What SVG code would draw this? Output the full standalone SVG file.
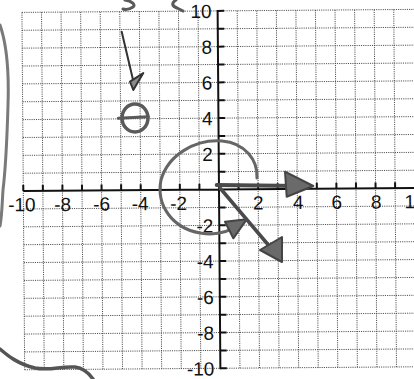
<svg xmlns="http://www.w3.org/2000/svg" width="414" height="379" viewBox="0 0 414 379">
<style>
.grid{fill:none;stroke:#3a3a3a;stroke-width:0.9;stroke-dasharray:1.1 1.1}
.axis{fill:none;stroke:#111;stroke-width:2}
.tick{fill:none;stroke:#111;stroke-width:2}
.lbl{font-family:"Liberation Sans",Arial,sans-serif;font-size:19px;fill:#111}
.xl{text-anchor:end}
.yl{text-anchor:end}
.pen{fill:none;stroke:#5a5a5a;stroke-width:3;stroke-linecap:round;stroke-linejoin:round}
.head{fill:#6a6a6a;stroke:#444;stroke-width:2;stroke-linejoin:round}
</style>
<rect width="414" height="379" fill="#fff"/>
<g id="plot" transform="rotate(-0.44 219 189.6)">
<path id="grid" class="grid" d="M23.3,10.9V368.3M42.87,10.9V368.3M62.44,10.9V368.3M82.01,10.9V368.3M101.58,10.9V368.3M121.15,10.9V368.3M140.72,10.9V368.3M160.29,10.9V368.3M179.86,10.9V368.3M199.43,10.9V368.3M238.57,10.9V368.3M258.14,10.9V368.3M277.71,10.9V368.3M297.28,10.9V368.3M316.85,10.9V368.3M336.42,10.9V368.3M355.99,10.9V368.3M375.56,10.9V368.3M395.13,10.9V368.3M23.3,10.9H420M23.3,28.77H420M23.3,46.64H420M23.3,64.51H420M23.3,82.38H420M23.3,100.25H420M23.3,118.12H420M23.3,135.99H420M23.3,153.86H420M23.3,171.73H420M23.3,207.47H420M23.3,225.34H420M23.3,243.21H420M23.3,261.08H420M23.3,278.95H420M23.3,296.82H420M23.3,314.69H420M23.3,332.56H420M23.3,350.43H420M23.3,368.3H420"/>
<g id="axes">
<path class="axis" d="M23.3,189.6H420M219,10V369.3"/>
<path class="tick" d="M23.3,189.6v-6M42.87,189.6v-6M62.44,189.6v-6M82.01,189.6v-6M101.58,189.6v-6M121.15,189.6v-6M140.72,189.6v-6M160.29,189.6v-6M179.86,189.6v-6M199.43,189.6v-6M238.57,189.6v-6M258.14,189.6v-6M277.71,189.6v-6M297.28,189.6v-6M316.85,189.6v-6M336.42,189.6v-6M355.99,189.6v-6M375.56,189.6v-6M395.13,189.6v-6M219,10.9h6.5M219,28.77h6.5M219,46.64h6.5M219,64.51h6.5M219,82.38h6.5M219,100.25h6.5M219,118.12h6.5M219,135.99h6.5M219,153.86h6.5M219,171.73h6.5M219,207.47h6.5M219,225.34h6.5M219,243.21h6.5M219,261.08h6.5M219,278.95h6.5M219,296.82h6.5M219,314.69h6.5M219,332.56h6.5M219,350.43h6.5M219,368.3h6.5"/>
</g>
<g id="x-labels" class="lbl xl">
<text x="35.5" y="209.7">-10</text>
<text x="71" y="209.7">-8</text>
<text x="110" y="209.7">-6</text>
<text x="148.5" y="209.7">-4</text>
<text x="187" y="209.7">-2</text>
<text x="263.5" y="209.7">2</text>
<text x="303.5" y="209.7">4</text>
<text x="342" y="209.7">6</text>
<text x="381.5" y="209.7">8</text>
<text x="425.5" y="209.7">10</text>
</g>
<g id="y-labels" class="lbl yl">
<text x="213" y="17.9">10</text>
<text x="213" y="53.6">8</text>
<text x="213" y="89.4">6</text>
<text x="213" y="125.1">4</text>
<text x="213" y="160.9">2</text>
<text x="213" y="232.3">-2</text>
<text x="213" y="268.1">-4</text>
<text x="213" y="303.8">-6</text>
<text x="213" y="339.6">-8</text>
<text x="213" y="375.3">-10</text>
</g>
</g>
<g id="marks">
<path id="left-curve" class="pen" style="stroke:#7a7a7a" d="M0,25 C7,45 9,75 8,105 C7,140 6,165 3,190 C2,205 2,215 0,226"/>
<path id="bottom-curve" class="pen" style="stroke:#555;stroke-width:3.5" d="M0,349 C8,356 18,364 35,368 C50,371 60,366 75,367 C83,368 88,372 93,379"/>
<path id="top-mark-1" class="pen" d="M125,0 C132,1 136,5 133,7 C130,9 126,10 123,9"/>
<path id="top-mark-2" class="pen" d="M176,0 C171,3 172,6 177,8 C179,9 181,10 183,11"/>
<g id="arrow-down">
<path class="pen" style="stroke:#333;stroke-width:2" d="M121.7,31.7 L134,84"/>
<polygon class="head" style="fill:#8a8a8a;stroke:#333" points="130,81.7 143.3,73 133.3,90"/>
</g>
<g id="point-circle">
<ellipse class="pen" style="stroke-width:3.5" cx="135" cy="118" rx="13" ry="14"/>
<path class="pen" d="M118.3,118.3 L148.3,116.7"/>
</g>
<g id="loop">
<path class="pen" style="stroke:#666" d="M257,178 C258,160 245,143 222,141 C195,139 168,155 161,180 C156,205 172,228 200,233 C218,236 230,231 238,225"/>
<polygon class="head" points="225,221.7 246.7,219.3 233.3,238.3"/>
</g>
<g id="vec-horizontal">
<path class="pen" style="stroke:#4a4a4a;stroke-width:4" d="M216.7,185 L300,186"/>
<polygon class="head" points="285,171.7 313.3,186 286.7,196.7"/>
</g>
<g id="vec-diagonal">
<path class="pen" style="stroke:#4a4a4a;stroke-width:3.5" d="M220,188 L276,254"/>
<polygon class="head" points="260,250 282,237 282,262"/>
</g>
</g>
</svg>
